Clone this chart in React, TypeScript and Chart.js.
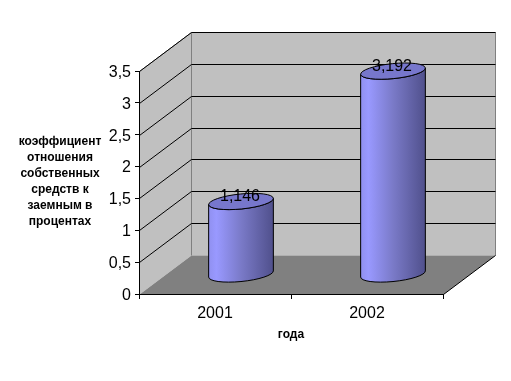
import React, { useEffect, useRef } from "react";
import { Chart, registerables } from "chart.js";

Chart.register(...registerables);

const categories = ["2001", "2002"];
const values = [1.146, 3.192];
const valueLabels = ["1,146", "3,192"];
const yTickLabels = ["0", "0,5", "1", "1,5", "2", "2,5", "3", "3,5"];
const yTitleLines = ["коэффициент", "отношения", "собственных", "средств к", "заемным в", "процентах"];
const xTitle = "года";

const FONT = '"Liberation Sans", Arial, sans-serif';
const DX = 52;
const DY = 39;

function polygon(ctx: any, pts: number[][], fill: string) {
  ctx.beginPath();
  pts.forEach((p, i) => (i ? ctx.lineTo(p[0], p[1]) : ctx.moveTo(p[0], p[1])));
  ctx.closePath();
  ctx.fillStyle = fill;
  ctx.fill();
}

function line(ctx: any, x1: number, y1: number, x2: number, y2: number, color: string) {
  ctx.beginPath();
  ctx.moveTo(x1, y1);
  ctx.lineTo(x2, y2);
  ctx.strokeStyle = color;
  ctx.lineWidth = 1;
  ctx.stroke();
}

const wallsPlugin = {
  id: "walls",
  beforeDraw(chart: any) {
    const { ctx, chartArea: a, scales } = chart;
    const l = a.left + 0.5;
    const r = a.right + 0.5;
    const t = a.top + 0.5;
    const b = a.bottom + 0.5;
    ctx.save();
    polygon(ctx, [[l, t], [l + DX, t - DY], [l + DX, b - DY], [l, b]], "#C0C0C0");
    polygon(ctx, [[l + DX, t - DY], [r + DX, t - DY], [r + DX, b - DY], [l + DX, b - DY]], "#C0C0C0");
    polygon(ctx, [[l, b], [l + DX, b - DY], [r + DX, b - DY], [r, b]], "#808080");
    line(ctx, l, t, l + DX, t - DY, "#808080");
    line(ctx, l + DX, t - DY, r + DX, t - DY, "#808080");
    line(ctx, l + DX, t - DY, l + DX, b - DY, "#808080");
    line(ctx, r + DX, t - DY, r + DX, b - DY, "#808080");
    scales.y.ticks.forEach((tick: any) => {
      if (tick.value === 0) return;
      const y = Math.round(scales.y.getPixelForValue(tick.value)) + 0.5;
      line(ctx, l, y, l + DX, y - DY, "#000000");
      line(ctx, l + DX, y - DY, r + DX, y - DY, "#000000");
    });
    line(ctx, r, b, r + DX, b - DY, "#000000");
    ctx.restore();
  },
};

const cylinderPlugin = {
  id: "cylinders",
  afterDatasetsDraw(chart: any) {
    const { ctx } = chart;
    const meta = chart.getDatasetMeta(0);
    const phi = -0.1;
    const ry = 7.5;
    meta.data.forEach((el: any, i: number) => {
      const cx = el.x + DX / 2;
      const top = el.y - DY / 2;
      const base = el.base - DY / 2;
      const rx = el.width / 2;
      const t0 = Math.atan2(-ry * Math.sin(phi), rx * Math.cos(phi));
      const ex = rx * Math.cos(t0) * Math.cos(phi) - ry * Math.sin(t0) * Math.sin(phi);
      const ey = rx * Math.cos(t0) * Math.sin(phi) + ry * Math.sin(t0) * Math.cos(phi);
      const grad = ctx.createLinearGradient(cx - ex, 0, cx + ex, 0);
      grad.addColorStop(0, "#9090F0");
      grad.addColorStop(0.12, "#9999FF");
      grad.addColorStop(0.5, "#7A7AC8");
      grad.addColorStop(1, "#50508C");
      ctx.save();
      ctx.beginPath();
      ctx.moveTo(cx + ex, top + ey);
      ctx.lineTo(cx + ex, base + ey);
      ctx.ellipse(cx, base, rx, ry, phi, t0, t0 + Math.PI, false);
      ctx.lineTo(cx - ex, top - ey);
      ctx.ellipse(cx, top, rx, ry, phi, t0 + Math.PI, t0, true);
      ctx.closePath();
      ctx.fillStyle = grad;
      ctx.fill();
      ctx.strokeStyle = "#000000";
      ctx.lineWidth = 1;
      ctx.stroke();
      ctx.beginPath();
      ctx.ellipse(cx, top, rx, ry, phi, 0, Math.PI * 2);
      ctx.fillStyle = "#7777CC";
      ctx.fill();
      ctx.stroke();
      ctx.fillStyle = "#000000";
      ctx.font = `16px ${FONT}`;
      ctx.textAlign = "center";
      ctx.textBaseline = "middle";
      ctx.fillText(valueLabels[i], cx - 1, top - 5);
      ctx.restore();
    });
  },
};

const yTitlePlugin = {
  id: "yTitleLines",
  afterDraw(chart: any) {
    const { ctx } = chart;
    ctx.save();
    ctx.fillStyle = "#000000";
    ctx.font = `bold 12px ${FONT}`;
    ctx.textAlign = "center";
    ctx.textBaseline = "middle";
    yTitleLines.forEach((s, i) => ctx.fillText(s, 60, 142 + i * 16));
    ctx.restore();
  },
};

export default function App() {
  const ref = useRef<HTMLCanvasElement | null>(null);
  useEffect(() => {
    if (!ref.current) return;
    const chart = new Chart(ref.current, {
      type: "bar",
      data: {
        labels: categories,
        datasets: [
          {
            data: values,
            backgroundColor: "rgba(0,0,0,0)",
            borderWidth: 0,
            barThickness: 65,
          },
        ],
      },
      plugins: [wallsPlugin, cylinderPlugin, yTitlePlugin],
      options: {
        responsive: false,
        animation: false,
        layout: { padding: { left: 0, right: 68, top: 71, bottom: 0 } },
        plugins: { legend: { display: false }, tooltip: { enabled: false } },
        scales: {
          x: {
            afterFit: (s: any) => {
              s.height = 87;
            },
            grid: { drawOnChartArea: false, color: "#000000", tickLength: 5 },
            border: { color: "#000000" },
            ticks: { color: "#000000", font: { family: FONT, size: 16 }, padding: 5, maxRotation: 0 },
            title: {
              display: true,
              text: xTitle,
              color: "#000000",
              font: { family: FONT, size: 12, weight: "bold" },
              padding: { top: 0, bottom: 39 },
            },
          },
          y: {
            min: 0,
            max: 3.5,
            afterFit: (s: any) => {
              s.width = 139;
            },
            grid: { drawOnChartArea: false, color: "#000000", tickLength: 4 },
            border: { color: "#000000" },
            ticks: {
              stepSize: 0.5,
              color: "#000000",
              padding: 4,
              labelOffset: 1.5,
              font: { family: FONT, size: 16 },
              callback: (_v: any, i: number) => yTickLabels[i],
            },
          },
        },
      },
    } as any);
    return () => chart.destroy();
  }, []);
  return (
    <div style={{ position: "absolute", left: 0, top: 0, width: 511, height: 381, background: "#fff" }}>
      <canvas ref={ref} width={511} height={381} style={{ display: "block" }} />
    </div>
  );
}
